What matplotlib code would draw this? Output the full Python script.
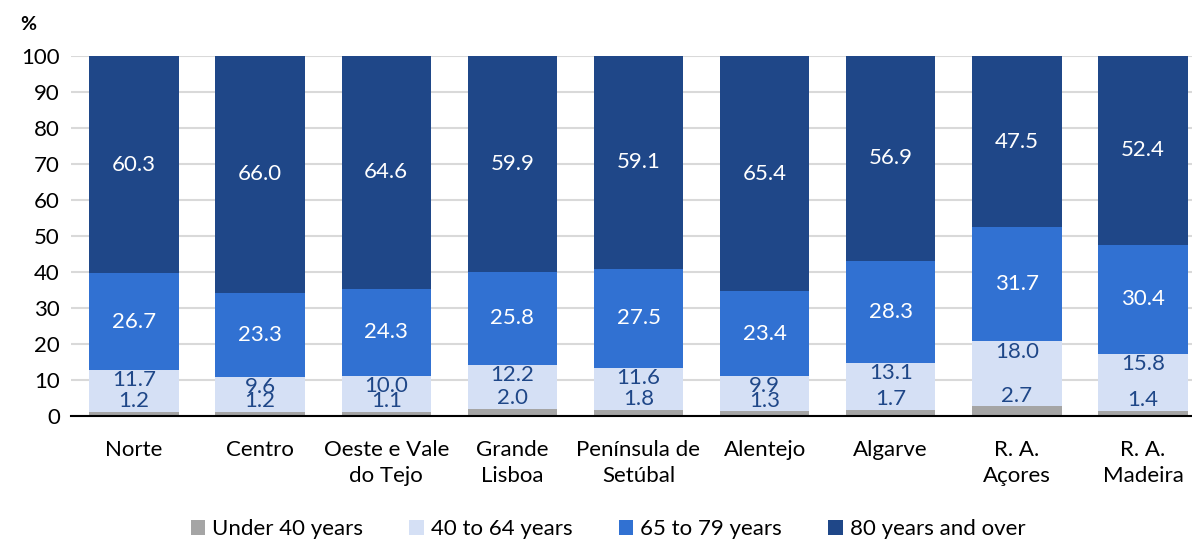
import matplotlib.pyplot as plt
import numpy as np

regions = ["Norte", "Centro", "Oeste e Vale\ndo Tejo", "Grande\nLisboa",
           "Península de\nSetúbal", "Alentejo", "Algarve", "R. A.\nAçores", "R. A.\nMadeira"]
under_40 = [1.2, 1.2, 1.1, 2.0, 1.8, 1.3, 1.7, 2.7, 1.4]
age_40_64 = [11.7, 9.6, 10.0, 12.2, 11.6, 9.9, 13.1, 18.0, 15.8]
age_65_79 = [26.7, 23.3, 24.3, 25.8, 27.5, 23.4, 28.3, 31.7, 30.4]
age_80_plus = [60.3, 66.0, 64.6, 59.9, 59.1, 65.4, 56.9, 47.5, 52.4]
series_names = ["Under 40 years", "40 to 64 years", "65 to 79 years", "80 years and over"]

colors = ["#A5A5A5", "#D5E0F5", "#3171D2", "#1F4788"]
label_colors = ["#1F4788", "#1F4788", "white", "white"]

plt.rcParams["font.family"] = ["Lato", "DejaVu Sans"]
fs = 16

fig = plt.figure(figsize=(11.92, 5.42), dpi=100)
ax = fig.add_axes([71 / 1192, 1 - 416 / 542, 1135 / 1192, 360 / 542])

x = np.arange(len(regions))
data = [under_40, age_40_64, age_65_79, age_80_plus]
bottom = np.zeros(len(regions))
bars = []
for i, vals in enumerate(data):
    vals = np.array(vals)
    b = ax.bar(x, vals, 0.71, bottom=bottom, color=colors[i], label=series_names[i], zorder=3)
    bars.append(b)
    for j in range(len(regions)):
        if i == 0:
            # small values sit just above the grey segment
            y, va = bottom[j] + vals[j] + 0.2, "bottom"
        elif i == 1:
            y, va = bottom[j] + vals[j] - 0.1, "top"
        else:
            y, va = bottom[j] + vals[j] / 2, "center"
        ax.text(x[j], y, f"{vals[j]:.1f}", ha="center", va=va,
                color=label_colors[i], fontsize=fs, zorder=4)
    bottom += vals

ax.set_ylim(0, 100)
ax.set_xlim(-0.5, len(regions) - 0.5)
ax.set_yticks(range(0, 101, 10))
ax.set_xticks(x)
ax.set_xticklabels(regions, fontsize=fs, linespacing=1.4)
ax.tick_params(axis="y", labelsize=fs, length=0, pad=8)
ax.tick_params(axis="x", length=0, pad=17)
ax.yaxis.grid(True, color="#D9D9D9", linewidth=1.5, zorder=0)
for s in ["top", "right", "left"]:
    ax.spines[s].set_visible(False)
ax.spines["bottom"].set_color("black")
ax.spines["bottom"].set_linewidth(1.5)
ax.spines["bottom"].set_zorder(5)

fig.text(20 / 1192, 1 - 25 / 542, "%", fontsize=fs - 2, fontweight="bold", ha="left", va="center")

fig.legend(handles=bars, labels=series_names, loc="center", bbox_to_anchor=(0.51, 1 - 529 / 542),
           ncol=4, frameon=False, fontsize=fs, handlelength=0.65, handleheight=0.65,
           handletextpad=0.3, columnspacing=2.1)

fig.savefig("out.png", dpi=100)
